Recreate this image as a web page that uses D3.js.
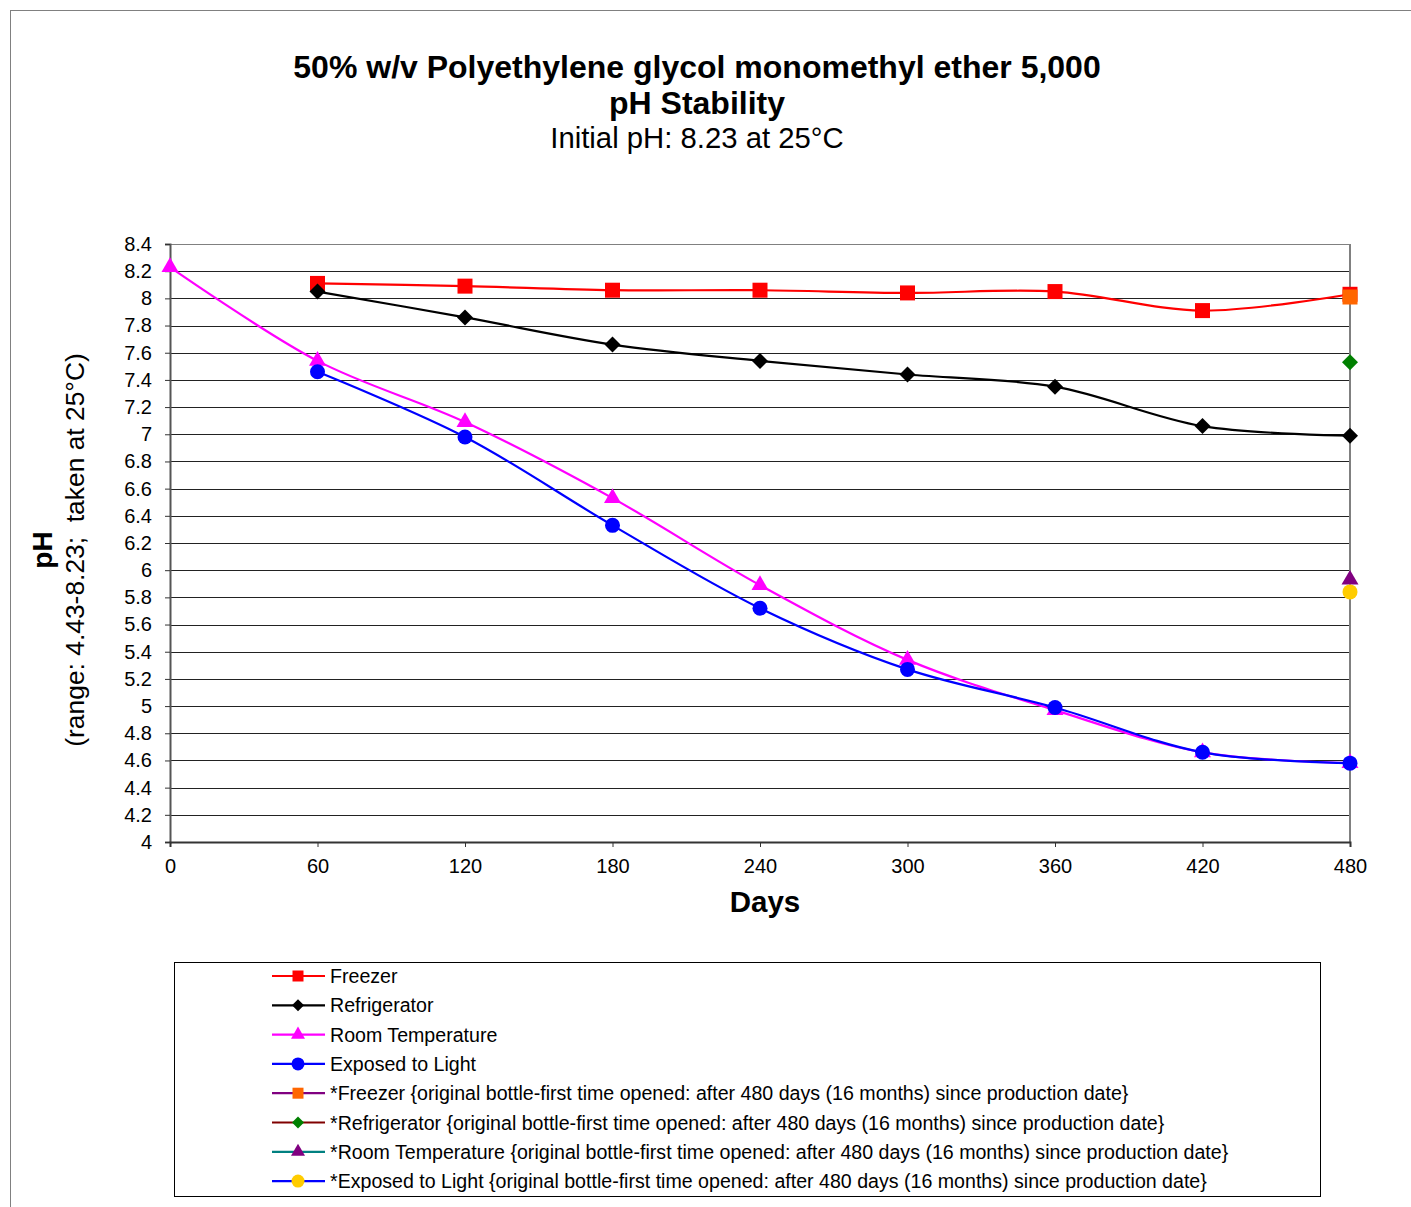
<!DOCTYPE html>
<html><head><meta charset="utf-8">
<script src="https://cdn.jsdelivr.net/npm/d3@7"></script>
<style>body{margin:0;background:#fff}svg{display:block;font-family:"Liberation Sans",Arial,sans-serif}</style>
</head><body><svg id="c" width="1411" height="1207"></svg>
<script>
const days = [0, 60, 120, 180, 240, 300, 360, 420, 480];
const xTicks = [0, 60, 120, 180, 240, 300, 360, 420, 480];
const yTicks = d3.range(0, 23).map(i => +(4 + i * 0.2).toFixed(1));
const freezer = [null, 8.11, 8.09, 8.06, 8.06, 8.04, 8.05, 7.91, 8.03];
const refrigerator = [null, 8.05, 7.86, 7.66, 7.54, 7.44, 7.35, 7.06, 6.99];
const roomTemp = [8.23, 7.54, 7.09, 6.53, 5.89, 5.34, 4.97, 4.66, 4.58];
const light = [null, 7.46, 6.98, 6.33, 5.72, 5.27, 4.99, 4.66, 4.58];
const freezerOrig = [null, null, null, null, null, null, null, null, 8.01];
const refrigOrig = [null, null, null, null, null, null, null, null, 7.53];
const roomOrig = [null, null, null, null, null, null, null, null, 5.93];
const lightOrig = [null, null, null, null, null, null, null, null, 5.84];
const seriesNames = ["Freezer", "Refrigerator", "Room Temperature", "Exposed to Light",
  "*Freezer {original bottle-first time opened: after 480 days (16 months) since production date}",
  "*Refrigerator {original bottle-first time opened: after 480 days (16 months) since production date}",
  "*Room Temperature {original bottle-first time opened: after 480 days (16 months) since production date}",
  "*Exposed to Light {original bottle-first time opened: after 480 days (16 months) since production date}"];

const series = [
  {name: seriesNames[0], values: freezer, line: "#ff0000", fill: "#ff0000", shape: "square"},
  {name: seriesNames[1], values: refrigerator, line: "#000000", fill: "#000000", shape: "diamond"},
  {name: seriesNames[2], values: roomTemp, line: "#ff00ff", fill: "#ff00ff", shape: "triangle"},
  {name: seriesNames[3], values: light, line: "#0000ff", fill: "#0000ff", shape: "circle"},
  {name: seriesNames[4], values: freezerOrig, line: "#800080", fill: "#ff6600", shape: "square"},
  {name: seriesNames[5], values: refrigOrig, line: "#800000", fill: "#008000", shape: "diamond"},
  {name: seriesNames[6], values: roomOrig, line: "#008080", fill: "#800080", shape: "triangle"},
  {name: seriesNames[7], values: lightOrig, line: "#0000ff", fill: "#ffcc00", shape: "circle"}
];

const svg = d3.select("#c");
svg.append("rect").attr("x", 10.5).attr("y", 10.5).attr("width", 1430).attr("height", 1230)
  .attr("fill", "none").attr("stroke", "#808080").attr("stroke-width", 1);

const L = 170, R = 1350, T = 244, B = 842;
const x = d3.scaleLinear().domain([0, 480]).range([L, R]);
const y = d3.scaleLinear().domain([4, 8.4]).range([B, T]);

const title = svg.append("text").attr("text-anchor", "middle").attr("fill", "#000");
title.append("tspan").attr("x", 697).attr("y", 78).attr("font-size", 32).attr("font-weight", "bold")
  .text("50% w/v Polyethylene glycol monomethyl ether 5,000");
title.append("tspan").attr("x", 697).attr("y", 114).attr("font-size", 32).attr("font-weight", "bold")
  .text("pH Stability");
title.append("tspan").attr("x", 697).attr("y", 148).attr("font-size", 29.3)
  .text("Initial pH: 8.23 at 25°C");

svg.append("g").selectAll("line").data(yTicks).join("line")
  .attr("x1", L).attr("x2", R)
  .attr("y1", d => Math.round(y(d)) + 0.5).attr("y2", d => Math.round(y(d)) + 0.5)
  .attr("stroke", d => d === 8.4 ? "#808080" : "#222").attr("stroke-width", 1.2);

svg.append("line").attr("x1", R).attr("x2", R).attr("y1", T).attr("y2", B)
  .attr("stroke", "#808080").attr("stroke-width", 2);

const yAxis = svg.append("g").attr("transform", `translate(${L},0)`)
  .call(d3.axisLeft(y).tickValues(yTicks).tickSize(5).tickPadding(13).tickFormat(d => d3.format("")(d)));
yAxis.select(".domain").attr("stroke", "#555").attr("stroke-width", 2);
yAxis.selectAll(".tick line").attr("stroke", "#333");
yAxis.selectAll("text").attr("font-size", 20).attr("fill", "#000").attr("font-family", "Liberation Sans, Arial, sans-serif");

const xAxis = svg.append("g").attr("transform", `translate(0,${B})`)
  .call(d3.axisBottom(x).tickValues(xTicks).tickSize(5).tickPadding(12));
xAxis.select(".domain").attr("stroke", "#333").attr("stroke-width", 2);
xAxis.selectAll(".tick line").attr("stroke", "#333");
xAxis.selectAll("text").attr("font-size", 20).attr("fill", "#000").attr("font-family", "Liberation Sans, Arial, sans-serif");

svg.append("text").attr("x", 765).attr("y", 912).attr("text-anchor", "middle")
  .attr("font-size", 29.5).attr("font-weight", "bold").text("Days");
const yl = svg.append("g").attr("transform", "translate(0,550) rotate(-90)");
yl.append("text").attr("x", 0).attr("y", 52).attr("text-anchor", "middle")
  .attr("font-size", 28).attr("font-weight", "bold").text("pH");
yl.append("text").attr("x", 0).attr("y", 84).attr("text-anchor", "middle")
  .attr("font-size", 26.4).text("(range: 4.43-8.23;\u00a0\u00a0taken at 25°C)");

function sym(shape, s) {
  const h = s / 2;
  if (shape === "square") return `M${-h},${-h}H${h}V${h}H${-h}Z`;
  if (shape === "diamond") return `M0,${-h}L${h},0L0,${h}L${-h},0Z`;
  if (shape === "triangle") { const ht = s * Math.sqrt(3) / 2; return `M0,${-ht * 2 / 3}L${h},${ht / 3}L${-h},${ht / 3}Z`; }
  return `M${h},0A${h},${h} 0 1,1 ${-h},0A${h},${h} 0 1,1 ${h},0Z`;
}

const line = d3.line().defined(d => d.v != null).x(d => x(d.d)).y(d => y(d.v))
  .curve(d3.curveCatmullRom.alpha(0.5));

series.forEach(s => {
  const pts = days.map((d, i) => ({d, v: s.values[i]}));
  svg.append("path").datum(pts).attr("d", line).attr("fill", "none")
    .attr("stroke", s.line).attr("stroke-width", 2.2);
});
const msize = {square: 15, diamond: 16, triangle: 17, circle: 15};
series.forEach(s => {
  const pts = days.map((d, i) => ({d, v: s.values[i]})).filter(p => p.v != null);
  svg.append("g").selectAll("path").data(pts).join("path")
    .attr("transform", p => `translate(${x(p.d)},${y(p.v)})`)
    .attr("d", sym(s.shape, msize[s.shape])).attr("fill", s.fill);
});

const lg = svg.append("g");
lg.append("rect").attr("x", 174.5).attr("y", 962.5).attr("width", 1146).attr("height", 234)
  .attr("fill", "#fff").attr("stroke", "#000").attr("stroke-width", 1);
const lsize = {square: 11, diamond: 12, triangle: 14, circle: 13};
series.forEach((s, i) => {
  const cy = 976 + i * 29.3;
  lg.append("line").attr("x1", 272).attr("x2", 325).attr("y1", cy).attr("y2", cy)
    .attr("stroke", s.line).attr("stroke-width", 2.2);
  lg.append("path").attr("transform", `translate(298,${cy})`).attr("d", sym(s.shape, lsize[s.shape])).attr("fill", s.fill);
  lg.append("text").attr("x", 330).attr("y", cy + 7).attr("font-size", 19.6).text(s.name);
});
</script></body></html>
